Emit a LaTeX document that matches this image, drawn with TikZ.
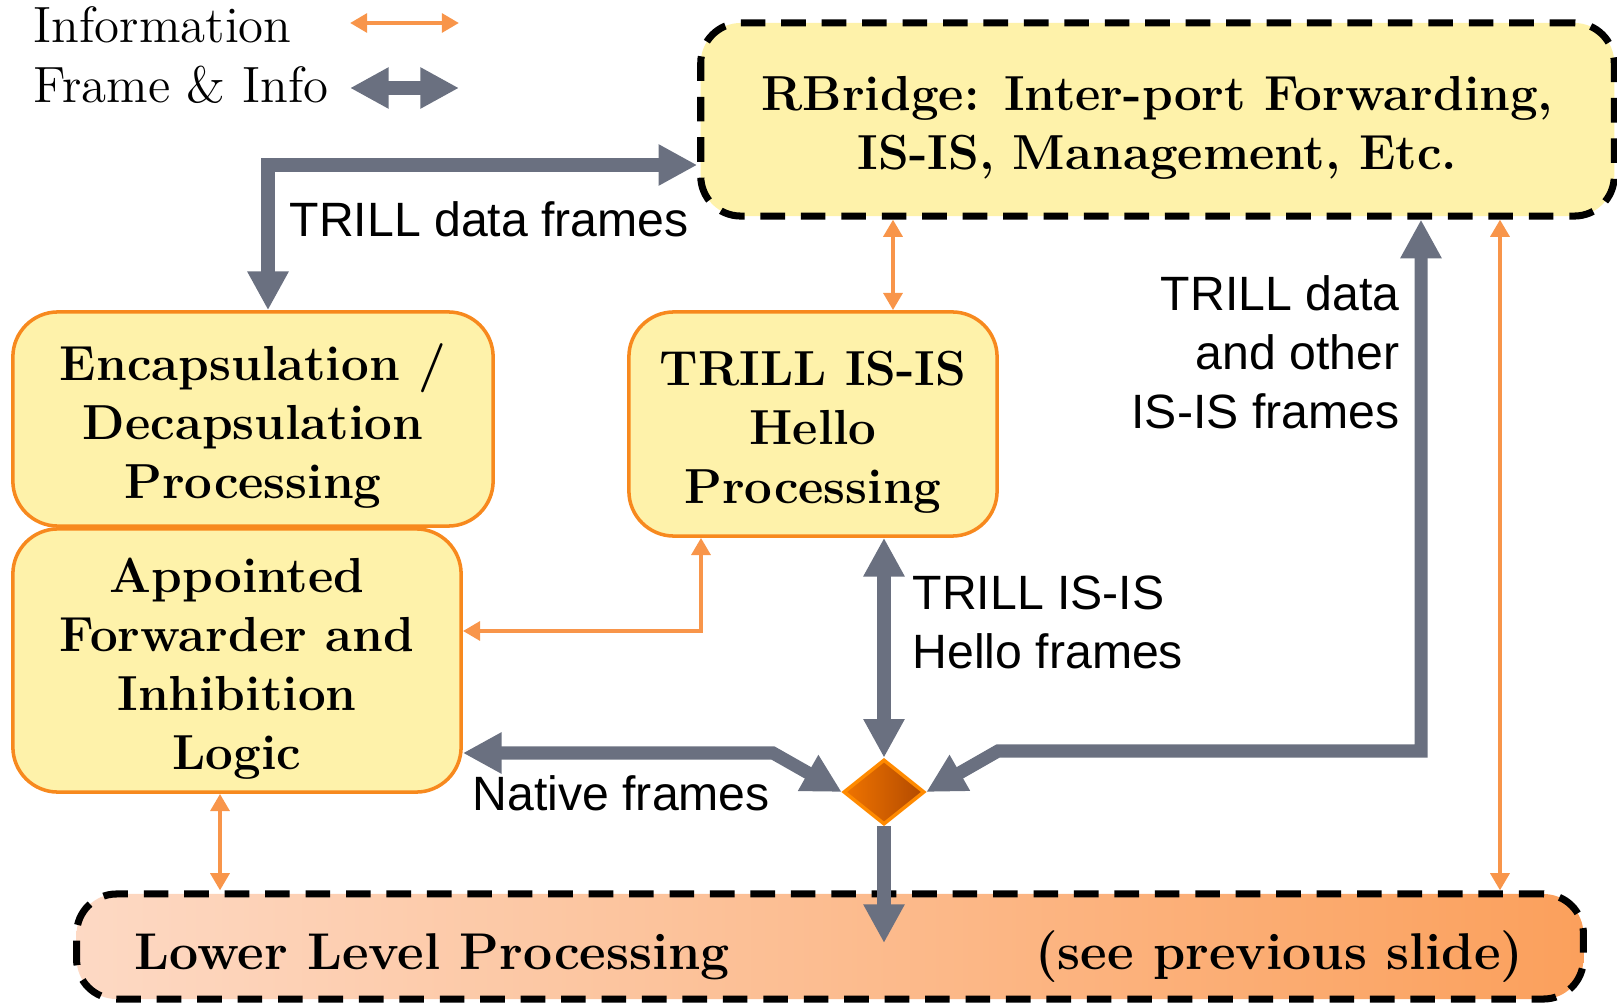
\documentclass[tikz,border=0pt]{standalone}
\usepackage{fontspec}
\usepackage{tikz}
\usetikzlibrary{arrows.meta,%
                shapes,positioning}

\newfontfamily\sansfont{Liberation Sans}
\newcommand{\boxfont}{\fontsize{14}{16.8}\selectfont\bfseries}
\newcommand{\lowfont}{\fontsize{14.7}{17}\selectfont\bfseries}
\newcommand{\lblfont}{\fontsize{13.7}{16.8}\selectfont\sansfont}
\newcommand{\keyfont}{\fontsize{14.5}{17}\selectfont}
\newcommand{\boxstrut}{\rule{0pt}{14.5pt}}

\definecolor{framegray}{HTML}{6A7080}
\definecolor{infoorange}{HTML}{F8954A}
\definecolor{boxyellow}{HTML}{FEF2AA}
\definecolor{boxedge}{HTML}{F7891E}
\definecolor{lowleft}{HTML}{FDD9C4}
\definecolor{lowmid}{HTML}{FDCAA7}
\definecolor{lowright}{HTML}{FBA05C}
\definecolor{dialight}{HTML}{F07400}
\definecolor{diadark}{HTML}{B24A00}
\definecolor{diaedge}{HTML}{FF8A00}

\begin{document}
\begin{tikzpicture}[x=0.01cm,y=-0.01cm,
  box/.style={draw=boxedge,line width=1pt,fill=boxyellow,rounded corners=0.45cm,
    align=center,inner sep=0pt,font=\boxfont},
  bigbox/.style={draw=black,line width=2pt,dash pattern=on 7pt off 4.5pt,
    rounded corners=0.4cm,inner sep=0pt},
  dia/.style={diamond,draw=diaedge,line width=1pt,left color=dialight,right color=diadark,
    minimum width=0.81cm,minimum height=0.65cm,inner sep=0pt},
  lbl/.style={font=\lblfont,inner sep=0pt},
  key/.style={font=\keyfont,inner sep=0pt,anchor=base west},
  frame/.style={draw=framegray,line width=3.7pt,
    arrows={Triangle[width=11pt,length=11pt]-Triangle[width=11pt,length=11pt]}},
  info/.style={draw=infoorange,line width=1.4pt,
    arrows={Triangle[width=5.3pt,length=4.9pt]-Triangle[width=5.3pt,length=4.9pt]}}]
\useasboundingbox (0,0) rectangle (1617,1003);

% legend
\node[key] (kinfo) at (33,43) {Information};
\node[key] (kframe) at (33,103) {Frame \& Info};
\coordinate (ki1) at (350,23);
\coordinate (ki2) at (459,23);
\coordinate (kf1) at (350,88);
\coordinate (kf2) at (459,88);
\draw[info] (ki1) -- (ki2);
\draw[frame] (kf1) -- (kf2);

% boxes
\node[box,bigbox,minimum width=9.13cm,minimum height=1.93cm] (rb) at (1157.5,119.5)
  {\boxstrut RBridge: Inter-port Forwarding,\\IS-IS, Management, Etc.};
\node[box,minimum width=4.80cm,minimum height=2.14cm] (enc) at (253,419)
  {\boxstrut Encapsulation /\\Decapsulation\\Processing};
\node[box,minimum width=4.48cm,minimum height=2.63cm] (apf) at (237,660.5)
  {\boxstrut Appointed\\Forwarder and\\Inhibition\\Logic};
\node[box,minimum width=3.68cm,minimum height=2.24cm] (hello) at (813,424)
  {\boxstrut TRILL IS-IS\\Hello\\Processing};
\node[bigbox,left color=lowleft,middle color=lowmid,right color=lowright,
  minimum width=15.06cm,minimum height=1.05cm] (low) at (830,946.5) {};
\node[font=\lowfont,inner sep=0pt,anchor=base west] (llp) at (134,969) {Lower Level Processing};
\node[font=\lowfont,inner sep=0pt,anchor=base east] (see) at (1524,969) {(see previous slide)};
\node[dia] (dia) at (884,792) {};

% bends
\coordinate (tdbend) at (268,165);
\coordinate (xhello) at (893,0);
\coordinate (xlow) at (1500,0);
\coordinate (xapf) at (220,0);
\coordinate (trbend) at (1421,751);
\coordinate (tlbend) at (998,751);
\coordinate (nfbend) at (773,753);
\coordinate (afbend) at (701,631);
\coordinate (lowin) at (884,943);

\draw[frame] (tdbend |- enc.north) -- (tdbend) -- (tdbend -| rb.west);
\draw[info] (rb.south -| xhello) -- (hello.north -| xhello);
\draw[frame] (trbend |- rb.south) -- (trbend) -- (tlbend) -- (dia.east);
\draw[info] (rb.south -| xlow) -- (low.north -| xlow);
\draw[frame] (hello.south -| dia) -- (dia.north);
\draw[info] (apf.east |- afbend) -- (afbend) -- (afbend |- hello.south);
\draw[frame] (apf.east |- nfbend) -- (nfbend) -- (dia.west);
\draw[frame,arrows={-Triangle[width=11pt,length=11pt]}] (dia.south) -- (lowin);
\draw[info] (apf.south -| xapf) -- (low.north -| xapf);

% labels
\node[lbl,anchor=base west] (tdf) at (289,236) {TRILL data frames};
\node[lbl,anchor=east,align=right] (tdo) at (1400,352) {TRILL data\\and other\\IS-IS frames};
\node[lbl,anchor=west,align=left] (thf) at (912,622) {TRILL IS-IS\\Hello frames};
\node[lbl,anchor=base west] (nf) at (472,810) {Native frames};
\end{tikzpicture}
\end{document}
